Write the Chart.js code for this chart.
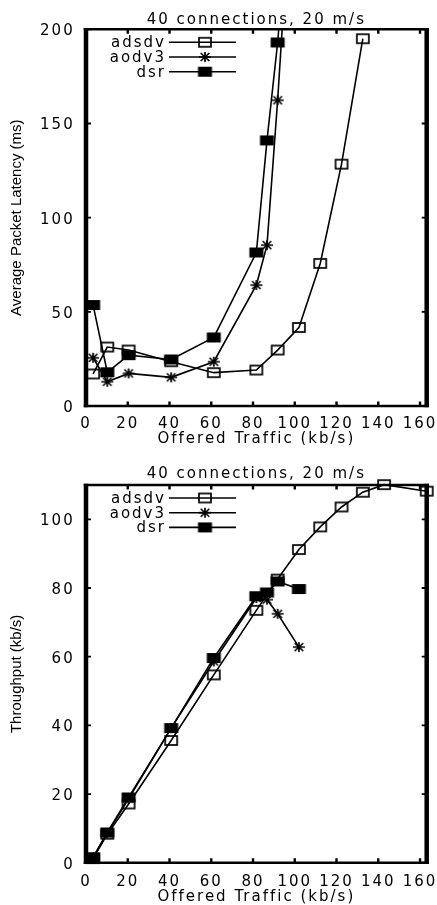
<!DOCTYPE html>
<html><head><meta charset="utf-8">
<script src="https://cdn.jsdelivr.net/npm/chart.js@4.4.1/dist/chart.umd.min.js"></script>
<style>
html,body{margin:0;padding:0;background:#fff;overflow:hidden;}
#w1{position:absolute;left:0;top:0;width:437px;height:445px;}
#w2{position:absolute;left:0;top:445px;width:437px;height:460px;}
</style></head><body>
<div id="w1"><canvas id="c1"></canvas></div>
<div id="w2"><canvas id="c2"></canvas></div>
<script>
// ---------- data ----------
const titleText = '40 connections, 20 m/s';
const xTitle = 'Offered Traffic (kb/s)';
const latencyTitle = 'Average Packet Latency (ms)';
const throughputTitle = 'Throughput (kb/s)';
const seriesNames = ['adsdv', 'aodv3', 'dsr'];
const xTicks = [0, 20, 40, 60, 80, 100, 120, 140, 160];
const latencyTicks = [0, 50, 100, 150, 200];
const throughputTicks = [0, 20, 40, 60, 80, 100];

const adsdvTraffic = [3.4, 10.2, 20.4, 40.8, 61.2, 81.6, 91.8, 102, 112.2, 122.4, 132.6, 142.8, 163.2];
const otherTraffic = [3.4, 10.2, 20.4, 40.8, 61.2, 81.6, 86.7, 91.8, 102];

const adsdvLatency = [17, 31.3, 29.7, 23.5, 17.7, 19.1, 29.7, 41.7, 75.7, 128.4, 195];
const aodv3Latency = [25.6, 12.9, 17.3, 15.2, 23.5, 64.2, 85.4, 162.3, 340];
const dsrLatency = [53.6, 17.9, 27, 24.7, 36.4, 81.5, 141, 193, 330];

const adsdvThroughput = [1.2, 8.3, 17.1, 35.6, 54.7, 73.5, 82.6, 91.2, 97.8, 103.6, 107.9, 110.1, 108.2];
const aodv3Throughput = [1.5, 8.6, 18.6, 39.2, 58.6, 77.1, 76.6, 72.5, 62.8];
const dsrThroughput = [1.6, 8.8, 19, 39.2, 59.6, 77.6, 78.7, 81.9, 79.7];

// ---------- styling ----------
Chart.defaults.font.family = '"DejaVu Sans"';
Chart.defaults.font.size = 15;
Chart.defaults.color = '#000';
const SPACING = '2px';

// marker glyphs (gnuplot-like, slightly wider than tall)
function makeMarker(kind) {
  const c = document.createElement('canvas');
  const g = c.getContext('2d');
  if (kind === 'open') {
    c.width = 16; c.height = 13;
    g.strokeStyle = '#000'; g.lineWidth = 1.7;
    g.strokeRect(2, 2, 12, 9);
  } else if (kind === 'filled') {
    c.width = 17; c.height = 14;
    g.fillStyle = '#000';
    g.fillRect(1.5, 2, 14, 10);
  } else {
    c.width = 16; c.height = 14;
    g.strokeStyle = '#000'; g.lineWidth = 1.7;
    const cx = 8, cy = 7, rx = 6, ry = 5, dx = rx * 0.72, dy = ry * 0.8;
    g.beginPath();
    g.moveTo(cx - rx, cy); g.lineTo(cx + rx, cy);
    g.moveTo(cx, cy - ry); g.lineTo(cx, cy + ry);
    g.moveTo(cx - dx, cy - dy); g.lineTo(cx + dx, cy + dy);
    g.moveTo(cx - dx, cy + dy); g.lineTo(cx + dx, cy - dy);
    g.stroke();
  }
  return c;
}
const openSquare = makeMarker('open');
const filledSquare = makeMarker('filled');
const starMark = makeMarker('star');

function setSpacing(chart) { if ('letterSpacing' in chart.ctx) chart.ctx.letterSpacing = SPACING; }
const spacingPlugin = { id: 'spacing', beforeInit: setSpacing, beforeUpdate: setSpacing, beforeLayout: setSpacing, beforeDraw: setSpacing };

const framePlugin = {
  id: 'frame',
  beforeDatasetsDraw(chart) {
    const { ctx, chartArea: a, scales } = chart;
    ctx.save();
    ctx.strokeStyle = '#000';
    ctx.lineWidth = 2.4;
    scales.x.ticks.forEach(t => {
      const px = scales.x.getPixelForValue(t.value);
      ctx.beginPath();
      ctx.moveTo(px, a.bottom); ctx.lineTo(px, a.bottom - 4.5);
      ctx.moveTo(px, a.top); ctx.lineTo(px, a.top + 4.5);
      ctx.stroke();
    });
    ctx.lineWidth = 1.8;
    scales.y.ticks.forEach(t => {
      const py = scales.y.getPixelForValue(t.value);
      ctx.beginPath();
      ctx.moveTo(a.left, py); ctx.lineTo(a.left + 5, py);
      ctx.moveTo(a.right, py); ctx.lineTo(a.right - 5, py);
      ctx.stroke();
    });
    ctx.lineWidth = 2.6;
    ctx.beginPath();
    ctx.moveTo(a.left - 2.25, a.top); ctx.lineTo(a.right + 2.25, a.top);
    ctx.moveTo(a.left - 2.25, a.bottom); ctx.lineTo(a.right + 2.25, a.bottom);
    ctx.stroke();
    ctx.lineWidth = 4.5;
    ctx.beginPath();
    ctx.moveTo(a.left, a.top - 1.3); ctx.lineTo(a.left, a.bottom + 1.3);
    ctx.moveTo(a.right, a.top - 1.3); ctx.lineTo(a.right, a.bottom + 1.3);
    ctx.stroke();
    ctx.restore();
  }
};

const keyPlugin = {
  id: 'key',
  afterDatasetsDraw(chart) {
    const { ctx, chartArea: a } = chart;
    ctx.save();
    if ('letterSpacing' in ctx) ctx.letterSpacing = SPACING;
    ctx.font = '15px "DejaVu Sans"';
    ctx.fillStyle = '#000';
    ctx.strokeStyle = '#000';
    ctx.textAlign = 'right';
    ctx.textBaseline = 'middle';
    chart.data.datasets.forEach((d, i) => {
      const y = a.top + 13 + i * 14.7;
      ctx.fillText(d.label, a.left + 80, y + 1);
      ctx.lineWidth = 1.6;
      ctx.beginPath(); ctx.moveTo(a.left + 83, y); ctx.lineTo(a.left + 150, y); ctx.stroke();
      const img = d.pointStyle;
      ctx.drawImage(img, a.left + 119 - img.width / 2, y - img.height / 2);
    });
    ctx.restore();
  }
};

function series(label, xs, ys, marker, clip) {
  return {
    label: label,
    data: ys.map((v, i) => ({ x: xs[i], y: v })),
    borderColor: '#000', borderWidth: 1.6, tension: 0, fill: false,
    pointStyle: marker, pointRadius: 6, pointHoverRadius: 6,
    clip: clip
  };
}

function makeChart(id, cfg) {
  return new Chart(document.getElementById(id), {
    type: 'line',
    data: { datasets: cfg.datasets },
    plugins: [spacingPlugin, framePlugin, keyPlugin],
    options: {
      animation: false, responsive: true, maintainAspectRatio: false,
      events: [],
      layout: { padding: { left: 0, right: 10.3, top: 0, bottom: 0 } },
      plugins: {
        legend: { display: false },
        tooltip: { enabled: false },
        title: {
          display: true, text: titleText, fullSize: false, color: '#000',
          font: { size: 15, weight: 'normal', lineHeight: 1.2 },
          padding: cfg.titlePad
        }
      },
      scales: {
        x: {
          type: 'linear', min: 0, max: 163.2,
          afterBuildTicks: s => { s.ticks = xTicks.map(v => ({ value: v })); },
          grid: { display: false, drawTicks: false }, border: { display: false },
          ticks: { padding: cfg.xTickPad, maxRotation: 0, autoSkip: false, font: { size: 15 } },
          title: { display: true, text: xTitle, font: { size: 15, lineHeight: 0.8 }, padding: { top: 0, bottom: cfg.xTitlePad } },
          afterFit: s => { s.height = cfg.xHeight; s.paddingLeft = 0; s.paddingRight = 0; }
        },
        y: {
          type: 'linear', min: 0, max: cfg.yMax,
          afterBuildTicks: s => { s.ticks = cfg.yTicks.map(v => ({ value: v })); },
          grid: { display: false, drawTicks: false }, border: { display: false },
          ticks: { padding: 11.3, labelOffset: 2, autoSkip: false, font: { size: 15 } },
          title: { display: true, text: cfg.yTitle, font: { family: '"Liberation Sans"', size: 15, lineHeight: 1.2 }, padding: { top: 8.2, bottom: 0 } },
          afterFit: s => {
            s.width = 86; s.paddingTop = 0; s.paddingBottom = 0;
            if (!s._plainTitle) {
              const orig = s.drawTitle;
              s.drawTitle = function () {
                const c = this.ctx; const prev = c.letterSpacing;
                if ('letterSpacing' in c) c.letterSpacing = '0px';
                orig.apply(this, arguments);
                if ('letterSpacing' in c) c.letterSpacing = prev;
              };
              s._plainTitle = true;
            }
          }
        }
      }
    }
  });
}

const topClip = { left: 10, right: 10, top: 0, bottom: 10 };
makeChart('c1', {
  datasets: [
    series(seriesNames[0], adsdvTraffic, adsdvLatency, openSquare, topClip),
    series(seriesNames[1], otherTraffic, aodv3Latency, starMark, topClip),
    series(seriesNames[2], otherTraffic, dsrLatency, filledSquare, topClip)
  ],
  yMax: 200, yTicks: latencyTicks, yTitle: latencyTitle,
  titlePad: { top: 11, bottom: 0.3 }, xTickPad: 8.8, xTitlePad: 0.3, xHeight: 39
});
makeChart('c2', {
  datasets: [
    series(seriesNames[0], adsdvTraffic, adsdvThroughput, openSquare, false),
    series(seriesNames[1], otherTraffic, aodv3Throughput, starMark, false),
    series(seriesNames[2], otherTraffic, dsrThroughput, filledSquare, false)
  ],
  yMax: 110, yTicks: throughputTicks, yTitle: throughputTitle,
  titlePad: { top: 19.8, bottom: 2.2 }, xTickPad: 10.4, xTitlePad: 2, xHeight: 42.3
});
</script>
</body></html>
